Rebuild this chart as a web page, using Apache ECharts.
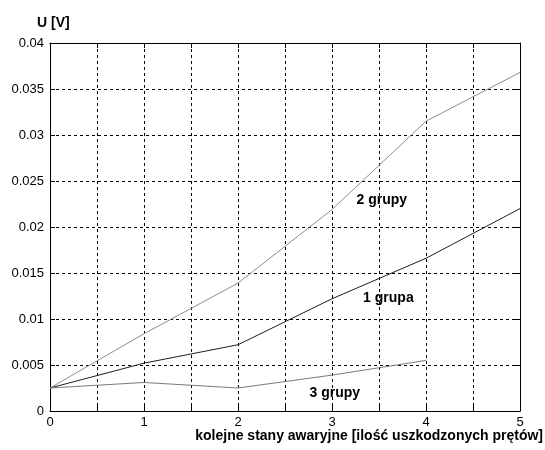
<!DOCTYPE html>
<html>
<head>
<meta charset="utf-8">
<script src="https://cdn.jsdelivr.net/npm/echarts@6/dist/echarts.min.js"></script>
<style>
  html, body { margin: 0; padding: 0; background: #fff; }
  #chart { width: 545px; height: 450px; }
</style>
</head>
<body>
<div id="chart"></div>
<script>
// Fault states (number of damaged bars) and measured voltage U [V]
var states = [0, 1, 2, 3, 4, 5];
var grupa1 = [0.0025, 0.0052, 0.0072, 0.0122, 0.0166, 0.0220];
var grupy2 = [0.0025, 0.0084, 0.0139, 0.0219, 0.0315, 0.0368];
var grupy3 = [0.0025, 0.0031, 0.0025, 0.0039, 0.0055];

var seriesNames = ['1 grupa', '2 grupy', '3 grupy'];
var seriesColors = ['#1e1e1e', '#8e8e8e', '#7a7a7a'];
// Where each curve's name is written, in data units [state, U]
var nameAnchors = [[3.6, 0.01228], [3.53, 0.02293], [3.03, 0.00196]];

var yTicks = ['0', '0.005', '0.01', '0.015', '0.02', '0.025', '0.03', '0.035', '0.04'];
var xTicks = ['0', '1', '2', '3', '4', '5'];

var FONT = '"Liberation Sans", Arial, sans-serif';

function pairs(xs, ys) {
  return ys.map(function (v, i) { return [xs[i], v]; });
}

var chart = echarts.init(document.getElementById('chart'), null, { renderer: 'canvas' });

var gridLine = { show: true, lineStyle: { color: '#000', type: [3, 3], width: 1 } };
var axisLine = { show: true, onZero: false, lineStyle: { color: '#000', width: 1 } };
var tick = { show: true, inside: true, length: 5, lineStyle: { color: '#000' } };

function xAxisDef(pos, main) {
  return {
    type: 'value', position: pos, min: 0, max: 5, interval: 0.5,
    axisLine: axisLine, axisTick: tick,
    splitLine: main ? gridLine : { show: false },
    axisLabel: main ? {
      show: true, color: '#000', fontFamily: FONT, fontSize: 13, margin: 5,
      formatter: function (v) {
        var idx = xTicks.indexOf(String(v));
        return idx >= 0 ? xTicks[idx] : '';
      }
    } : { show: false }
  };
}

function yAxisDef(pos, main) {
  return {
    type: 'value', position: pos, min: 0, max: 0.04, interval: 0.005,
    axisLine: axisLine, axisTick: tick,
    splitLine: main ? gridLine : { show: false },
    axisLabel: main ? {
      show: true, color: '#000', fontFamily: FONT, fontSize: 13, margin: 6,
      formatter: function (v) {
        return yTicks[Math.round(v / 0.005)];
      }
    } : { show: false }
  };
}

var allData = [grupa1, grupy2, grupy3];

var series = allData.map(function (vals, i) {
  return {
    name: seriesNames[i],
    type: 'line',
    xAxisIndex: 0, yAxisIndex: 0,
    data: pairs(states, vals),
    showSymbol: false,
    symbol: 'none',
    lineStyle: { color: seriesColors[i], width: 1 },
    itemStyle: { color: seriesColors[i] },
    markPoint: {
      symbol: 'circle', symbolSize: 0, silent: true,
      label: {
        show: true, position: 'inside', color: '#000',
        fontFamily: FONT, fontSize: 14, fontWeight: 'bold',
        formatter: seriesNames[i]
      },
      data: [{ coord: nameAnchors[i] }]
    }
  };
});

chart.setOption({
  animation: false,
  backgroundColor: '#fff',
  grid: { left: 50, right: 25, top: 43, bottom: 39, containLabel: false },
  xAxis: [xAxisDef('bottom', true), xAxisDef('top', false)],
  yAxis: [yAxisDef('left', true), yAxisDef('right', false)],
  graphic: [
    {
      type: 'text', left: 37, top: 16,
      style: { text: 'U [V]', font: 'bold 14px ' + FONT, fill: '#000' }
    },
    {
      type: 'text', right: 2, top: 429,
      style: { text: 'kolejne stany awaryjne [ilość uszkodzonych prętów]', font: 'bold 14px ' + FONT, fill: '#000' }
    }
  ],
  series: series
});
</script>
</body>
</html>
